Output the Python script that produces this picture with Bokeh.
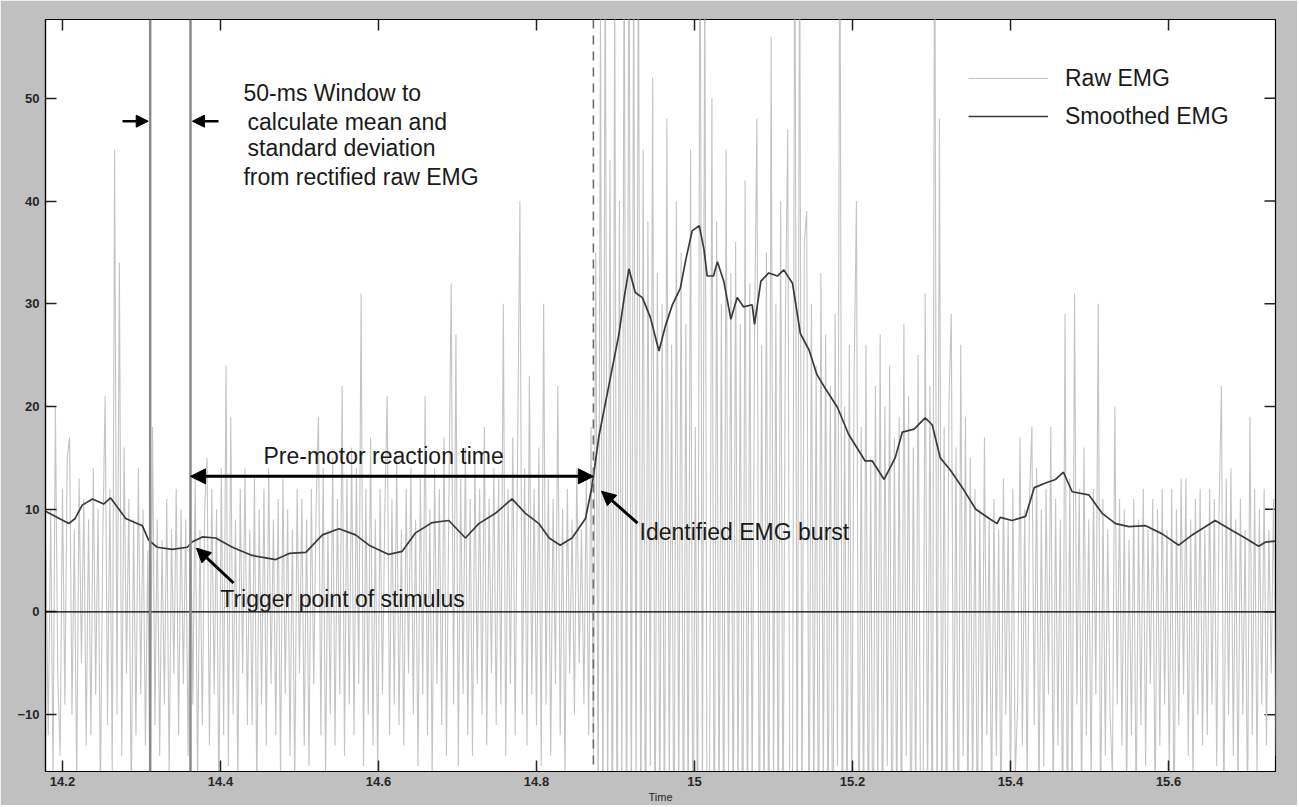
from bokeh.plotting import figure
from bokeh.models import (Range1d, LinearAxis, FixedTicker, Span, Label, Arrow,
                          NormalHead, Legend, LegendItem, ColumnDataSource)
from bokeh.embed import file_html
from bokeh.resources import INLINE

# ---------------- data ----------------
raw_t0 = 14.179      # first sample time (s)
raw_dt = 0.003       # sample spacing (s)
raw_emg = [
    6, -12, 10, -16, 20, -6, -14, 12, -9, 15,
    17, -10, 8, -17, 13, -5, 11, -13, 9, -12,
    14, -8, 10, -18, 7, 21, -11, 12, -16, 45,
    -10, 34, -14, 16, -6, 11, -19, 9, -12, 14,
    -8, 10, -13, 6, -20, 18, -11, 9, -14, 7,
    -9, 11, -16, 8, -6, 12, -12, 10, -7, 9,
    -14, 11, -9, 13, -17, 8, -11, 10, 15, -13,
    12, -8, 10, -19, 14, -12, 24, -15, 19, -10,
    9, -17, 12, -6, 14, -11, 8, -11, 13, -18,
    10, -9, 12, -13, 14, -7, 9, -12, 11, -16,
    13, -8, 10, -14, 8, -17, 12, -6, 11, -13,
    9, -15, 12, -7, 10, 19, -12, 14, -16, 8,
    -10, 15, -13, 11, -8, 22, -14, 13, -9, 16,
    -12, 14, -7, 31, -15, 12, -10, 17, -13, 9,
    -16, 12, -8, 10, 21, -12, 11, -9, 15, -11,
    8, -13, 12, -6, 14, -10, 9, -15, 13, -8,
    21, -12, 10, -16, 14, -7, 12, -11, 17, -14,
    10, 32, -9, 27, -15, 13, -8, 16, -12, 11,
    -14, 15, -7, 12, -10, 18, -13, 11, -6, 14,
    -11, 13, -9, 30, -14, 12, -7, 17, -12, 15,
    40, -10, 14, -13, 23, -8, 12, -11, 16, -15,
    30, -9, 13, -14, 11, -7, 22, -12, 10, -16,
    12, -6, 9, -10, 14, -5, 8, -9, 13, -12,
    18, -14, 35, -20, 58, -25, 70, -22, 44, -30,
    62, -28, 40, -18, 70, -30, 75, -24, 66, -20,
    70, -26, 45, -30, 38, -15, 52, -28, 33, -22,
    30, -25, 48, -18, 26, -30, 40, -20, 35, -27,
    28, -22, 45, -30, 18, -26, 75, -20, 65, -28,
    -18, 50, -30, 38, -22, 30, -27, 45, -16, 33,
    -25, 36, -20, 28, -30, 42, -24, 32, -19, 27,
    48, -28, 26, -22, 35, -30, 56, -18, 30, -26,
    40, -24, 28, 47, -30, -20, 75, -28, 70, -22,
    36, 39, -26, 30, -20, 24, -28, 33, -18, 27,
    -24, 22, -30, 29, -15, 75, -27, 20, -22, 26,
    -19, 23, 40, -28, 18, -21, 26, -25, 15, -30,
    22, -18, 27, -26, 20, -15, 24, -28, 17, -22,
    19, -25, 28, -14, 21, -27, 16, -20, 25, -18,
    -26, 31, -19, 22, -28, 75, -24, 48, -21, 18,
    -25, 20, 29, -18, 16, -27, 26, -14, 19, -22,
    15, -19, 12, -23, 10, -16, 17, -12, 9, -20,
    11, -14, 8, -22, 13, -10, 9, -18, 12, -16,
    -9, 17, -13, 10, -17, 11, 18, -11, 14, -19,
    10, -15, 12, -8, 18, -20, 11, -13, 9, -22,
    29, -24, 13, -21, 31, -9, 12, -20, 16, -12,
    9, -17, 12, -8, 30, -22, 11, -14, 8, -10,
    -16, 20, -9, 11, -13, 10, -18, 7, -12, 11,
    -20, 9, -11, 12, -15, 8, -7, 11, -19, 10,
    -13, 12, -9, 8, -16, 12, -22, 10, -11, 13,
    -8, 13, -14, 9, -17, 11, -10, 12, -13, 8,
    -12, 12, -9, 11, -15, 10, 22, -21, 13, -10,
    14, -14, 9, -18, 11, -10, 8, -20, 19, -12,
    12, -16, 10, -9, 12, -13, 8, -6, 11, -14,
]
raw_time = [round(raw_t0 + i * raw_dt, 4) for i in range(len(raw_emg))]

smooth_time = [
    14.1785, 14.208, 14.216, 14.225, 14.238, 14.252, 14.261, 14.280, 14.301, 14.309,
    14.320, 14.339, 14.358, 14.364, 14.377, 14.394, 14.415, 14.440, 14.470, 14.487,
    14.508, 14.529, 14.550, 14.571, 14.588, 14.613, 14.630, 14.647, 14.668, 14.689,
    14.710, 14.727, 14.748, 14.769, 14.786, 14.803, 14.816, 14.830, 14.845, 14.862,
    14.870, 14.879, 14.892, 14.904, 14.911, 14.917, 14.925, 14.934, 14.944, 14.955,
    14.963, 14.972, 14.982, 14.989, 14.997, 15.006, 15.012, 15.016, 15.024, 15.029,
    15.037, 15.046, 15.054, 15.062, 15.073, 15.076, 15.084, 15.094, 15.105, 15.113,
    15.124, 15.134, 15.145, 15.155, 15.166, 15.181, 15.195, 15.216, 15.225, 15.240,
    15.254, 15.263, 15.278, 15.292, 15.301, 15.311, 15.324, 15.339, 15.356, 15.373,
    15.383, 15.387, 15.402, 15.419, 15.430, 15.446, 15.457, 15.467, 15.478, 15.499,
    15.516, 15.533, 15.550, 15.571, 15.592, 15.613, 15.630, 15.659, 15.681, 15.697,
    15.714, 15.723, 15.735,
]
smooth_emg = [
    9.8, 8.6, 9.1, 10.4, 11.0, 10.5, 11.1, 9.1, 8.4, 7.0,
    6.3, 6.1, 6.3, 6.8, 7.3, 7.2, 6.3, 5.5, 5.1, 5.7,
    5.8, 7.5, 8.1, 7.5, 6.5, 5.6, 5.9, 7.7, 8.7, 8.9,
    7.2, 8.6, 9.6, 11.0, 9.6, 8.6, 7.2, 6.5, 7.2, 9.1,
    12.1, 17.1, 22.2, 26.9, 30.6, 33.4, 31.1, 30.6, 28.7, 25.4,
    27.8, 29.9, 31.5, 34.3, 37.1, 37.6, 35.3, 32.7, 32.7, 34.1,
    32.2, 28.5, 30.6, 29.7, 29.9, 28.0, 32.2, 33.0, 32.7, 33.3,
    32.0, 27.1, 25.5, 23.1, 21.7, 19.9, 17.3, 14.7, 14.7, 12.9,
    15.0, 17.5, 17.8, 18.9, 18.2, 15.0, 13.8, 12.1, 10.0, 9.1,
    8.6, 9.2, 8.9, 9.3, 12.1, 12.6, 12.9, 13.6, 11.7, 11.4,
    9.6, 8.6, 8.3, 8.4, 7.6, 6.5, 7.5, 8.9, 7.9, 7.2,
    6.4, 6.8, 6.9,
]

x_ticks = [14.2, 14.4, 14.6, 14.8, 15.0, 15.2, 15.4, 15.6]
x_tick_labels = ["14.2", "14.4", "14.6", "14.8", "15", "15.2", "15.4", "15.6"]
y_ticks = [-10, 0, 10, 20, 30, 40, 50]

window_start = 14.311     # 50-ms window
window_end = 14.362       # trigger point of stimulus
burst_time = 14.872       # identified EMG burst

FONT = "Liberation Sans"
X0, X1 = 14.1785, 15.7354
Y0, Y1 = -15.53, 57.67
FRAME_W, FRAME_H = 1230, 754
TICK_PX = 11

# ---------------- figure ----------------
p = figure(width=1297, height=805, output_backend="svg", toolbar_location=None,
           x_range=Range1d(X0, X1), y_range=Range1d(Y0, Y1),
           min_border_left=45, min_border_right=22, min_border_top=19,
           min_border_bottom=32)
p.xaxis.visible = False
p.yaxis.visible = False
p.grid.visible = False
p.background_fill_color = "white"
p.border_fill_color = "#c0c0c0"
p.outline_line_color = "black"
p.outline_line_width = 1.2

xt = FixedTicker(ticks=x_ticks)
yt = FixedTicker(ticks=y_ticks)

def style_axis(ax):
    ax.axis_line_color = "black"
    ax.axis_line_width = 1.2
    ax.major_tick_in = TICK_PX
    ax.major_tick_out = 0
    ax.major_tick_line_color = "#222222"
    ax.major_tick_line_width = 1.5
    ax.minor_tick_line_color = None
    ax.major_label_text_font = FONT
    ax.major_label_text_font_size = "13px"
    ax.major_label_text_color = "#262626"
    ax.major_label_text_font_style = "bold"

xb = LinearAxis(ticker=xt, axis_label="Time",
                major_label_overrides={t: s for t, s in zip(x_ticks, x_tick_labels)})
style_axis(xb)
xb.major_label_standoff = 5
xb.axis_label_text_font = FONT
xb.axis_label_text_font_size = "11px"
xb.axis_label_text_font_style = "normal"
xb.axis_label_text_color = "#262626"
xb.axis_label_standoff = 2
p.add_layout(xb, "below")

yl = LinearAxis(ticker=yt)
style_axis(yl)
yl.major_label_standoff = 6
p.add_layout(yl, "left")

# ticks on the top and right edges (inward, no labels)
dx_tick = TICK_PX * (X1 - X0) / FRAME_W
dy_tick = TICK_PX * (Y1 - Y0) / FRAME_H
p.segment(x0=x_ticks, x1=x_ticks, y0=[Y1] * len(x_ticks), y1=[Y1 - dy_tick] * len(x_ticks),
          line_color="#222222", line_width=1.5)
p.segment(x0=[X1] * len(y_ticks), x1=[X1 - dx_tick] * len(y_ticks), y0=y_ticks, y1=y_ticks,
          line_color="#222222", line_width=1.5)

# ---------------- data lines ----------------
raw_src = ColumnDataSource(dict(t=raw_time, v=raw_emg))
sm_src = ColumnDataSource(dict(t=smooth_time, v=smooth_emg))

r_raw = p.line("t", "v", source=raw_src, line_color="#c4c4c4", line_width=1.1)

p.add_layout(Span(location=0, dimension="width", line_color="black", line_width=1.2))
p.add_layout(Span(location=window_start, dimension="height", line_color="#8a8a8a", line_width=2.5))
p.add_layout(Span(location=window_end, dimension="height", line_color="#8a8a8a", line_width=2.5))
p.add_layout(Span(location=burst_time, dimension="height", line_color="#6e6e6e",
                  line_width=1.6, line_dash="9 7"))

r_sm = p.line("t", "v", source=sm_src, line_color="#3a3a3a", line_width=1.7)

# ---------------- annotations ----------------
def arrow(x0, y0, x1, y1, w=2.6, size=12, both=False):
    head = NormalHead(size=size, fill_color="black", line_color="black", line_width=1)
    kw = dict(end=head, x_start=x0, y_start=y0, x_end=x1, y_end=y1,
              line_color="black", line_width=w)
    if both:
        kw["start"] = NormalHead(size=size, fill_color="black", line_color="black", line_width=1)
    else:
        kw["start"] = None
    p.add_layout(Arrow(**kw))

arrow(14.276, 47.77, 14.3085, 47.77)
arrow(14.3975, 47.77, 14.3645, 47.77)
arrow(window_end, 13.2, burst_time, 13.2, w=3, size=15, both=True)
arrow(14.4165, 2.82, 14.3696, 6.21, w=3, size=14)
arrow(14.9279, 8.64, 14.8823, 11.75, w=3, size=14)

def label(x, y, text):
    p.add_layout(Label(x=x, y=y, text=text, text_font=FONT, text_font_size="23px",
                       text_color="#1a1a1a", text_baseline="middle", text_align="left"))

label(14.4291, 50.49, "50-ms Window to")
label(14.4342, 47.67, "calculate mean and")
label(14.4342, 45.15, "standard deviation")
label(14.4291, 42.33, "from rectified raw EMG")
label(14.4544, 15.15, "Pre-motor reaction time")
label(14.3997, 1.26, "Trigger point of stimulus")
label(14.9304, 7.77, "Identified EMG burst")

# ---------------- legend ----------------
legend = Legend(items=[LegendItem(label="Raw EMG", renderers=[r_raw]),
                       LegendItem(label="Smoothed EMG", renderers=[r_sm])],
                location=(923, 640), orientation="vertical",
                border_line_color=None, background_fill_alpha=0,
                padding=0, margin=0, spacing=8,
                glyph_width=80, glyph_height=30, label_height=30,
                label_standoff=17,
                label_text_font=FONT, label_text_font_size="23px",
                label_text_color="#1a1a1a")
p.add_layout(legend)

open("out.html", "w").write(file_html(p, INLINE))
